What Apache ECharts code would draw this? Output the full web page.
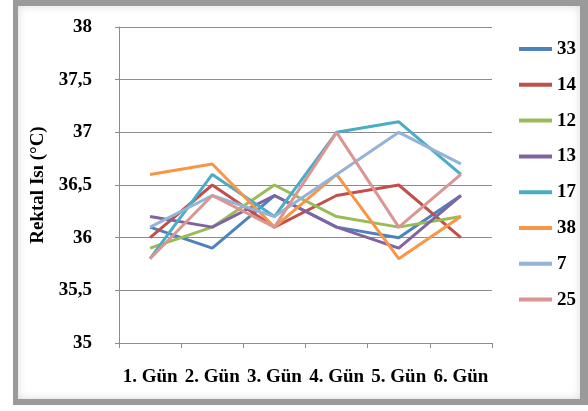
<!DOCTYPE html>
<html>
<head>
<meta charset="utf-8">
<script src="https://cdn.jsdelivr.net/npm/echarts@6/dist/echarts.min.js"></script>
<style>
  html, body { margin: 0; padding: 0; background: #fff; }
  #wrap { position: relative; width: 588px; height: 411px; overflow: hidden; }
  #frame {
    position: absolute; left: 13px; top: 0; width: 575px; height: 405px;
    box-sizing: border-box;
    border-left: 5px solid #9a9a9a; border-top: 6px solid #9a9a9a;
    border-right: 8px solid #9a9a9a; border-bottom: 6px solid #9a9a9a;
    box-shadow: inset 0 0 8px rgba(0,0,0,0.15);
    background: #fff;
  }
  #chart { position: absolute; left: 0; top: 0; width: 588px; height: 411px; }
</style>
</head>
<body>
<div id="wrap">
  <div id="frame"></div>
  <div id="chart"></div>
</div>
<script>
// Rectal temperature per day for each animal
const days = ['1. Gün', '2. Gün', '3. Gün', '4. Gün', '5. Gün', '6. Gün'];
const animalIds = ['33', '14', '12', '13', '17', '38', '7', '25'];
const colors = ['#4F81BD', '#C0504D', '#9BBB59', '#8064A2', '#4BACC6', '#F79646', '#95B3D7', '#D99694'];

const temp33 = [36.1, 35.9, 36.4, 36.1, 36.0, 36.4];
const temp14 = [36.0, 36.5, 36.1, 36.4, 36.5, 36.0];
const temp12 = [35.9, 36.1, 36.5, 36.2, 36.1, 36.2];
const temp13 = [36.2, 36.1, 36.4, 36.1, 35.9, 36.4];
const temp17 = [35.8, 36.6, 36.2, 37.0, 37.1, 36.6];
const temp38 = [36.6, 36.7, 36.1, 36.6, 35.8, 36.2];
const temp7  = [36.1, 36.4, 36.2, 36.6, 37.0, 36.7];
const temp25 = [35.8, 36.4, 36.1, 37.0, 36.1, 36.6];

const seriesValues = [temp33, temp14, temp12, temp13, temp17, temp38, temp7, temp25];

const font = '"Liberation Serif", "Times New Roman", serif';

const chart = echarts.init(document.getElementById('chart'), null, { renderer: 'canvas' });
chart.setOption({
  animation: false,
  color: colors,
  grid: { left: 119, right: 96, top: 27, bottom: 68, outerBoundsMode: 'none' },
  legend: {
    orient: 'vertical',
    left: 514,
    top: 34,
    itemWidth: 33,
    itemHeight: 4,
    itemGap: 15.8,
    icon: 'rect',
    data: animalIds,
    textStyle: { fontFamily: font, fontWeight: 'bold', fontSize: 19, color: '#000', lineHeight: 20 }
  },
  xAxis: {
    type: 'category',
    data: days,
    boundaryGap: true,
    axisLine: { lineStyle: { color: '#8c8c8c', width: 1 } },
    axisTick: { show: true, length: 5, lineStyle: { color: '#8c8c8c' } },
    axisLabel: { fontFamily: font, fontWeight: 'bold', fontSize: 19, color: '#000', margin: 25, interval: 0 }
  },
  yAxis: {
    type: 'value',
    min: 35,
    max: 38,
    interval: 0.5,
    name: 'Rektal Isı (°C)',
    nameLocation: 'middle',
    nameGap: 71,
    nameRotate: 90,
    nameTextStyle: { fontFamily: font, fontWeight: 'bold', fontSize: 19, color: '#000' },
    axisLine: { show: true, lineStyle: { color: '#8c8c8c', width: 1 } },
    axisTick: { show: true, length: 4, lineStyle: { color: '#8c8c8c' } },
    splitLine: { lineStyle: { color: '#8c8c8c', width: 1 } },
    axisLabel: {
      fontFamily: font, fontWeight: 'bold', fontSize: 19, color: '#000', margin: 27,
      formatter: v => String(v).replace('.', ',')
    }
  },
  series: animalIds.map((id, i) => ({
    name: id,
    type: 'line',
    data: seriesValues[i],
    symbol: 'none',
    smooth: false,
    lineStyle: { width: 3 }
  }))
});
</script>
</body>
</html>
